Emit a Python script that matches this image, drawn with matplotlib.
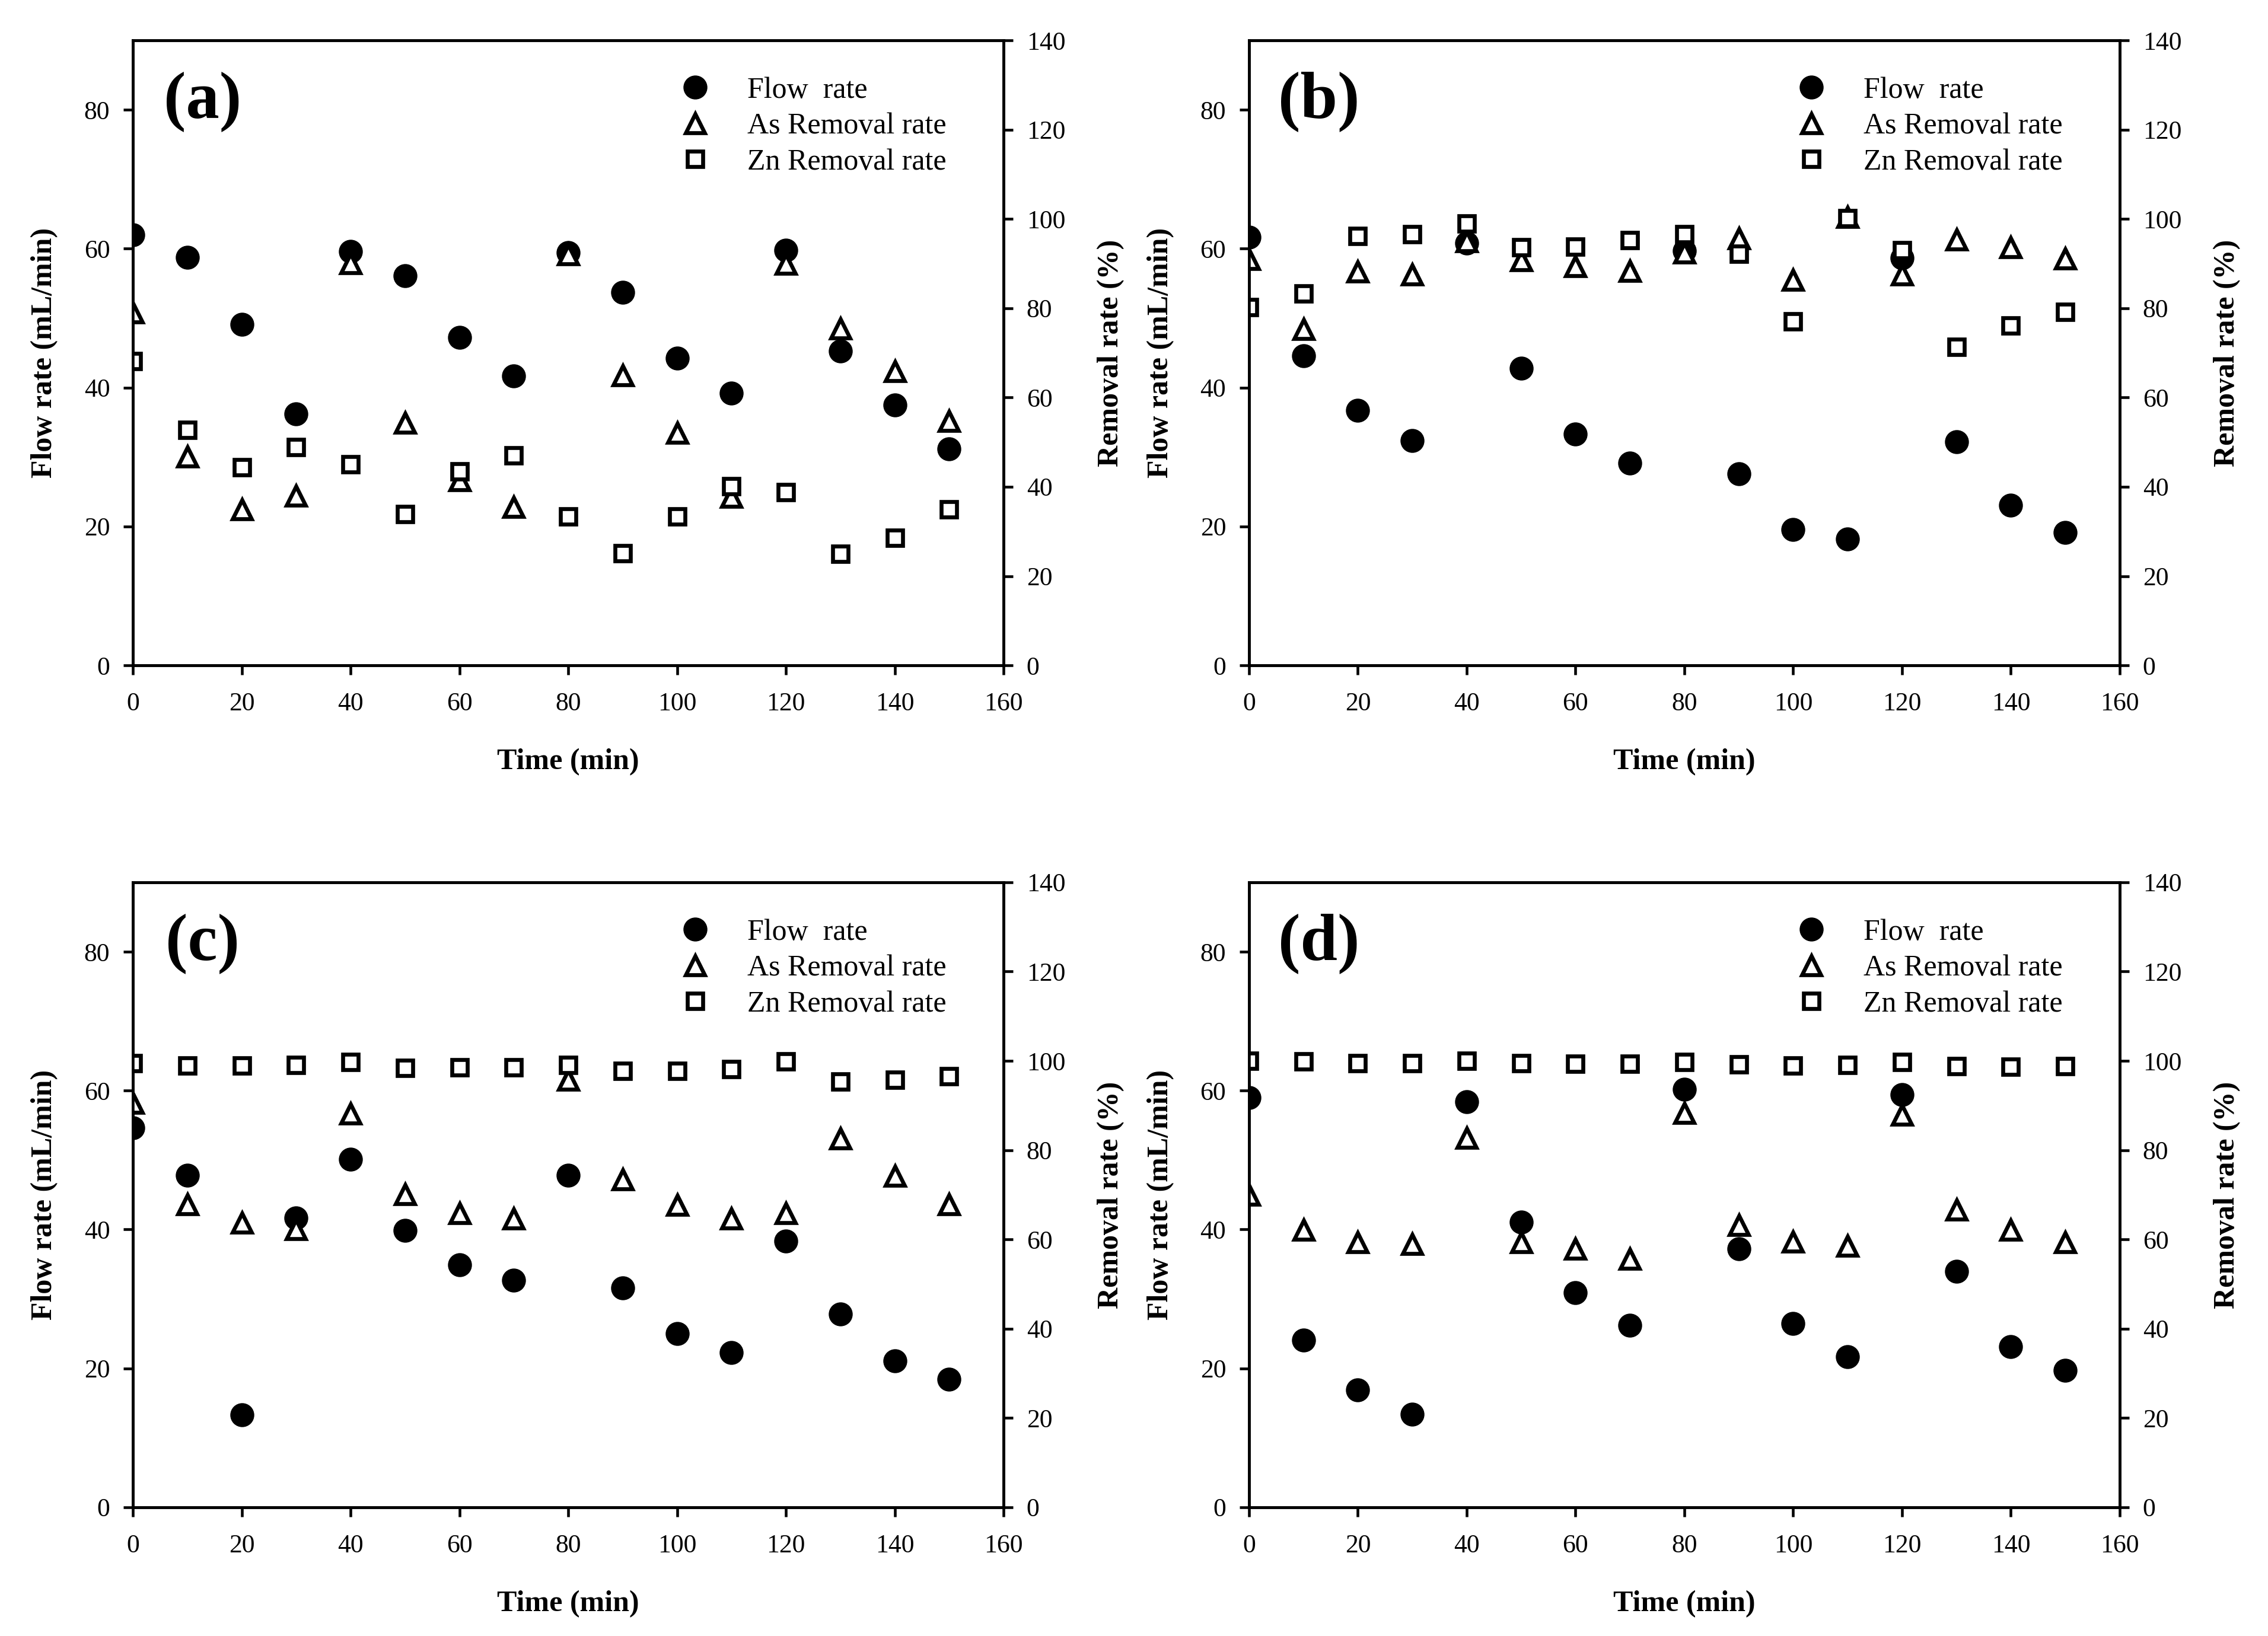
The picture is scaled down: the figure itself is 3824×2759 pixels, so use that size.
import matplotlib.pyplot as plt

plt.rcParams['font.family'] = ['Liberation Serif', 'DejaVu Serif']

# sampling times (min)
time = [0, 10, 20, 30, 40, 50, 60, 70, 80, 90, 100, 110, 120, 130, 140, 150]

# (a)
flow_a = [62.0, 58.8, 49.1, 36.2, 59.6, 56.1, 47.2, 41.7, 59.4, 53.7, 44.2, 39.2, 59.8, 45.3, 37.5, 31.2]
as_a = [79.0, 46.8, 35.0, 38.0, 90.1, 54.4, 41.5, 35.5, 92.0, 65.0, 52.1, 37.7, 89.9, 75.4, 65.9, 54.8]
zn_a = [68.1, 52.8, 44.4, 48.9, 45.0, 33.9, 43.5, 47.1, 33.4, 25.1, 33.4, 40.1, 38.8, 25.0, 28.6, 34.9]

# (b)
flow_b = [61.7, 44.6, 36.7, 32.4, 60.8, 42.8, 33.3, 29.1, 59.7, 27.6, 19.6, 18.2, 58.7, 32.2, 23.1, 19.1]
as_b = [91.0, 75.3, 88.2, 87.5, 95.0, 90.8, 89.4, 88.4, 92.5, 95.7, 86.4, 100.5, 87.5, 95.4, 93.7, 91.2]
zn_b = [80.2, 83.3, 96.2, 96.6, 99.0, 93.7, 93.8, 95.2, 96.6, 92.2, 77.0, 100.2, 93.0, 71.3, 76.1, 79.2]

# (c)
flow_c = [54.6, 47.8, 13.3, 41.7, 50.1, 39.9, 34.9, 32.7, 47.8, 31.6, 25.0, 22.3, 38.3, 27.8, 21.1, 18.4]
as_c = [90.6, 67.9, 63.7, 62.3, 88.2, 70.1, 65.9, 64.7, 95.7, 73.4, 67.7, 64.7, 65.9, 82.6, 74.2, 67.9]
zn_c = [99.5, 99.0, 98.9, 99.1, 99.7, 98.4, 98.5, 98.5, 99.1, 97.8, 97.7, 98.2, 99.9, 95.4, 95.8, 96.6]

# (d)
flow_d = [59.0, 24.1, 16.9, 13.4, 58.4, 41.1, 30.9, 26.2, 60.2, 37.2, 26.5, 21.7, 59.4, 34.0, 23.1, 19.7]
as_d = [70.0, 62.1, 59.4, 58.9, 82.7, 59.4, 57.9, 55.6, 88.3, 63.2, 59.5, 58.5, 87.9, 66.7, 62.1, 59.4]
zn_d = [100.0, 99.9, 99.5, 99.5, 100.0, 99.5, 99.3, 99.3, 99.8, 99.2, 99.0, 99.1, 99.8, 98.8, 98.7, 98.8]

panels = [('(a)', flow_a, as_a, zn_a),
          ('(b)', flow_b, as_b, zn_b),
          ('(c)', flow_c, as_c, zn_c),
          ('(d)', flow_d, as_d, zn_d)]

# axes boxes in figure fractions: left, bottom, width, height
boxes = [[0.0586, 0.5933, 0.3839, 0.3820],
         [0.5507, 0.5933, 0.3839, 0.3820],
         [0.0586, 0.0787, 0.3839, 0.3820],
         [0.5507, 0.0787, 0.3839, 0.3820]]

fig = plt.figure(figsize=(3824 / 300, 2759 / 300), dpi=300)

for (tag, flow, as_rm, zn_rm), box in zip(panels, boxes):
    ax = fig.add_axes(box)
    ax2 = ax.twinx()

    h1, = ax.plot(time, flow, 'o', color='black', markersize=9.2, markeredgewidth=0.5,
                  label='Flow  rate')
    h2, = ax2.plot(time, as_rm, '^', color='black', markerfacecolor='white',
                   markersize=7.6, markeredgewidth=1.6, label='As Removal rate')
    h3, = ax2.plot(time, zn_rm, 's', color='black', markerfacecolor='white',
                   markersize=6.4, markeredgewidth=1.6, label='Zn Removal rate')

    ax.set_xlim(0, 160)
    ax.set_ylim(0, 90)
    ax2.set_ylim(0, 140)
    ax.set_xticks(range(0, 161, 20))
    ax.set_yticks(range(0, 81, 20))
    ax2.set_yticks(range(0, 141, 20))

    for a in (ax, ax2):
        for s in a.spines.values():
            s.set_linewidth(1.1)
    ax.tick_params(axis='x', direction='out', length=3.8, width=1.1, labelsize=10.5, pad=7)
    ax.tick_params(axis='y', direction='out', length=3.8, width=1.1, labelsize=10.5, pad=5.5)
    ax2.tick_params(axis='y', direction='out', length=3.8, width=1.1, labelsize=10.5, pad=5.5)

    ax.set_xlabel('Time (min)', fontsize=12, fontweight='bold')
    ax.set_ylabel('Flow rate (mL/min)', fontsize=12, fontweight='bold', va='center')
    ax2.set_ylabel('Removal rate (%)', fontsize=12, fontweight='bold', va='center')
    ax.xaxis.set_label_coords(0.5, -0.155)
    ax.yaxis.set_label_coords(-0.1015, 0.5)
    ax2.yaxis.set_label_coords(1.1233, 0.5)
    ax.xaxis.label.set_va('center')

    ax.text(0.08, 0.902, tag, transform=ax.transAxes, fontsize=27,
            fontweight='bold', ha='center', va='center')

    ax2.legend([h1, h2, h3], [h1.get_label(), h2.get_label(), h3.get_label()],
               loc='upper left', bbox_to_anchor=(0.629, 0.942), frameon=False,
               fontsize=12, handlelength=1.0, handletextpad=1.25,
               labelspacing=0.28, borderpad=0, borderaxespad=0)

fig.savefig('out.png', dpi=300)
